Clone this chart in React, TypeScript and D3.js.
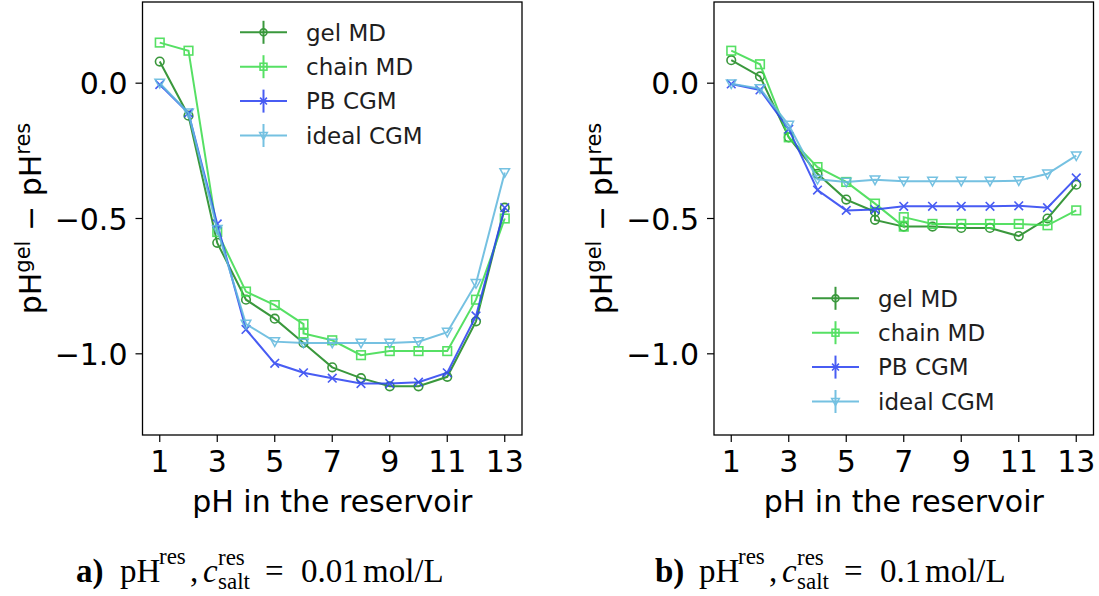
import React from "react";
import * as d3 from "d3";

// ---- data ----
const seriesNames = ["gel MD", "chain MD", "PB CGM", "ideal CGM"];
const seriesColors = ["#1f8a22", "#3fdc4f", "#2f46f2", "#62b9de"];
const seriesMarkers = ["circle", "square", "x", "tri"];

const phLevels = [1, 2, 3, 4, 5, 6, 7, 8, 9, 10, 11, 12, 13];
const phChainA = [1, 2, 3, 4, 5, 6, 6, 7, 8, 9, 10, 11, 12, 13];
const phGelB = [1, 2, 3, 4, 5, 6, 6, 7, 8, 9, 10, 11, 12, 13];
const phChainB = [1, 2, 3, 4, 5, 6, 7, 7, 8, 9, 10, 11, 12, 13];

// panel a) c_salt = 0.01 mol/L
const gelA = [0.08, -0.12, -0.59, -0.8, -0.87, -0.96, -1.05, -1.09, -1.12, -1.12, -1.085, -0.88, -0.46];
const chainA = [0.15, 0.12, -0.55, -0.77, -0.82, -0.89, -0.925, -0.95, -1.005, -0.99, -0.99, -0.99, -0.8, -0.5];
const pbA = [-0.005, -0.11, -0.52, -0.91, -1.035, -1.07, -1.09, -1.11, -1.11, -1.105, -1.07, -0.86, -0.46];
const idealA = [0.0, -0.11, -0.54, -0.89, -0.955, -0.96, -0.96, -0.96, -0.96, -0.955, -0.92, -0.74, -0.33];

// panel b) c_salt = 0.1 mol/L
const gelB = [0.085, 0.025, -0.2, -0.335, -0.43, -0.475, -0.505, -0.53, -0.53, -0.535, -0.535, -0.565, -0.5, -0.375];
const chainB = [0.12, 0.07, -0.2, -0.31, -0.365, -0.445, -0.53, -0.495, -0.52, -0.52, -0.52, -0.52, -0.525, -0.47];
const pbB = [-0.003, -0.025, -0.17, -0.395, -0.47, -0.467, -0.455, -0.455, -0.455, -0.455, -0.453, -0.46, -0.35];
const idealB = [-0.002, -0.02, -0.155, -0.355, -0.365, -0.357, -0.362, -0.362, -0.362, -0.362, -0.36, -0.335, -0.268];

const xTicks = [1, 3, 5, 7, 9, 11, 13];
const yTicks = [0, -0.5, -1.0];

const SANS = "DejaVu Sans, sans-serif";
const SERIF = "Liberation Serif, serif";

const Marker = ({ kind, cx, cy, color, s = 1 }) => {
  const r = 4.3 * s;
  if (kind === "circle")
    return <circle cx={cx} cy={cy} r={r} fill="none" stroke={color} strokeWidth={1.6} />;
  if (kind === "square")
    return <rect x={cx - r} y={cy - r} width={2 * r} height={2 * r} fill="none" stroke={color} strokeWidth={1.6} />;
  if (kind === "x")
    return (
      <path
        d={`M${cx - r},${cy - r}L${cx + r},${cy + r}M${cx - r},${cy + r}L${cx + r},${cy - r}`}
        stroke={color}
        strokeWidth={1.6}
      />
    );
  const w = 4.8 * s;
  return (
    <path
      d={`M${cx - w},${cy - w * 0.8}L${cx + w},${cy - w * 0.8}L${cx},${cy + w}Z`}
      fill="none"
      stroke={color}
      strokeWidth={1.5}
    />
  );
};

const Panel = ({ left, right, xs, ys, legendX, legendY }) => {
  const top = 2;
  const bottom = 435;
  const x = d3.scaleLinear().domain([0.4, 13.6]).range([left, right]);
  const y = d3.scaleLinear().domain([-1.3, 0.3]).range([bottom, top]);
  const line = d3
    .line<number[]>()
    .x((d) => x(d[0]))
    .y((d) => y(d[1]));
  const fmt = d3.format(".1f");

  return (
    <g>
      {seriesNames.map((name, i) => {
        const pts = xs[i].map((v, j) => [v, ys[i][j]]);
        return (
          <g key={name} opacity={0.88}>
            <path d={line(pts)} fill="none" stroke={seriesColors[i]} strokeWidth={2} />
            {pts.map((p, j) => (
              <Marker key={j} kind={seriesMarkers[i]} cx={x(p[0])} cy={y(p[1])} color={seriesColors[i]} />
            ))}
          </g>
        );
      })}

      <rect x={left} y={top} width={right - left} height={bottom - top} fill="none" stroke="#000" strokeWidth={1.3} />

      {xTicks.map((t) => (
        <g key={t}>
          <line x1={x(t)} x2={x(t)} y1={bottom} y2={bottom + 7} stroke="#000" strokeWidth={1.2} />
          <text x={x(t)} y={472} textAnchor="middle" fontSize={30} fontFamily={SANS}>
            {t}
          </text>
        </g>
      ))}
      {yTicks.map((t) => (
        <g key={t}>
          <line x1={left - 7} x2={left} y1={y(t)} y2={y(t)} stroke="#000" strokeWidth={1.2} />
          <text x={left - 15} y={y(t) + 11} textAnchor="end" fontSize={30} fontFamily={SANS}>
            {fmt(t).replace("-", "\u2212")}
          </text>
        </g>
      ))}

      <text x={(left + right) / 2} y={512} textAnchor="middle" fontSize={30} fontFamily={SANS}>
        pH in the reservoir
      </text>
      <text
        transform={`translate(${left - 102},${(top + bottom) / 2}) rotate(-90)`}
        textAnchor="middle"
        fontSize={30}
        fontFamily={SANS}
      >
        pH
        <tspan fontSize={21} dy={-11}>gel</tspan>
        <tspan dy={11}> {"\u2212"} pH</tspan>
        <tspan fontSize={21} dy={-11}>res</tspan>
      </text>

      {seriesNames.map((name, i) => {
        const ry = legendY + i * 34.4;
        return (
          <g key={name} opacity={0.88}>
            <line x1={legendX} x2={legendX + 47} y1={ry} y2={ry} stroke={seriesColors[i]} strokeWidth={2} />
            <line x1={legendX + 23.5} x2={legendX + 23.5} y1={ry - 11.5} y2={ry + 11.5} stroke={seriesColors[i]} strokeWidth={2} />
            <Marker kind={seriesMarkers[i]} cx={legendX + 23.5} cy={ry} color={seriesColors[i]} s={0.8} />
            <text x={legendX + 66} y={ry + 8.3} fontSize={23} fontFamily={SANS} fill="#000" opacity={1 / 0.88}>
              {name}
            </text>
          </g>
        );
      })}
    </g>
  );
};

const Caption = ({ x0, tag, conc, molOffset }) => {
  const base = 582;
  return (
    <text y={base} fontFamily={SERIF} fontSize={33} fill="#000">
      <tspan x={x0} fontWeight="bold">{tag}</tspan>
      <tspan x={x0 + 44}>pH</tspan>
      <tspan x={x0 + 83} y={base - 18} fontSize={23}>res</tspan>
      <tspan x={x0 + 114} y={base}>,</tspan>
      <tspan x={x0 + 127} fontStyle="italic">c</tspan>
      <tspan x={x0 + 142} y={base - 17} fontSize={23}>res</tspan>
      <tspan x={x0 + 142} y={base + 7} fontSize={23}>salt</tspan>
      <tspan x={x0 + 189} y={base}>=</tspan>
      <tspan x={x0 + 225}>{conc}</tspan>
      <tspan x={x0 + molOffset}>mol/L</tspan>
    </text>
  );
};

export default function App() {
  return (
    <svg width={1099} height={596} style={{ position: "absolute", left: 0, top: 0, background: "#fff" }}>
      <rect width={1099} height={596} fill="#fff" />
      <Panel
        left={142.5}
        right={522}
        xs={[phLevels, phChainA, phLevels, phLevels]}
        ys={[gelA, chainA, pbA, idealA]}
        legendX={240}
        legendY={32.3}
      />
      <Panel
        left={714}
        right={1093.5}
        xs={[phGelB, phChainB, phLevels, phLevels]}
        ys={[gelB, chainB, pbB, idealB]}
        legendX={812}
        legendY={298.3}
      />
      <Caption x0={76} tag="a)" conc="0.01" molOffset={287} />
      <Caption x0={655} tag="b)" conc="0.1" molOffset={270} />
    </svg>
  );
}
